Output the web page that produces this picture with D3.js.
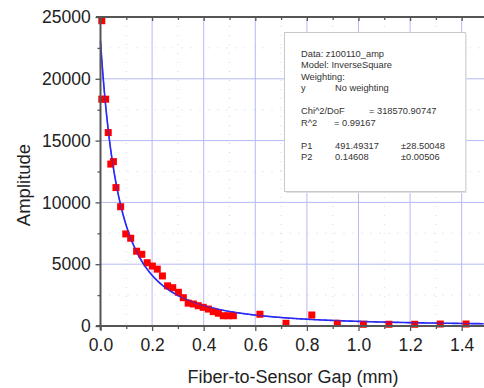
<!DOCTYPE html>
<html>
<head>
<meta charset="utf-8">
<script src="https://cdn.jsdelivr.net/npm/d3@7"></script>
<style>
  html, body { margin: 0; padding: 0; background: #fff; }
  svg { display: block; font-family: "Liberation Sans", Arial, sans-serif; }
</style>
</head>
<body>
<div id="chart"></div>
<script>
// measured gap (mm) and amplitude
const gap = [0.005, 0.005, 0.02, 0.03, 0.04, 0.05, 0.06, 0.078, 0.098, 0.117,
  0.14, 0.16, 0.181, 0.201, 0.22, 0.24, 0.26, 0.28, 0.302, 0.321,
  0.34, 0.36, 0.379, 0.398, 0.418, 0.437, 0.457, 0.476, 0.495, 0.515,
  0.618, 0.719, 0.819, 0.918, 1.019, 1.118, 1.218, 1.317, 1.417];
const amplitude = [24700, 18350, 18350, 15650, 13100, 13300, 11200, 9650, 7450, 7100,
  6050, 5800, 5120, 4850, 4600, 4050, 3250, 3100, 2730, 2290,
  1850, 1780, 1640, 1510, 1370, 1160, 1030, 830, 830, 830,
  950, 220, 890, 220, 140, 140, 140, 160, 160];

// fit parameters shown in the box: y = P1 / (x + P2)^2
const P1 = 491.49317;
const P2 = 0.14608;

const xTicks = [0, 0.2, 0.4, 0.6, 0.8, 1.0, 1.2, 1.4];
const yTicks = [0, 5000, 10000, 15000, 20000, 25000];

const infoLines = [
  ["Data: z100110_amp"],
  ["Model: InverseSquare"],
  ["Weighting:"],
  ["y", "No weighting"],
  [],
  ["Chi^2/DoF", "= 318570.90747"],
  ["R^2", "=  0.99167"],
  [],
  ["P1", "491.49317", "\u00b128.50048"],
  ["P2", "0.14608", "\u00b10.00506"]
];

const W = 484, H = 388;
const mLeft = 100.5, mRight = 484, mTop = 17, mBottom = 326;

const svg = d3.select("#chart").append("svg")
  .attr("width", W).attr("height", H);

const x = d3.scaleLinear().domain([0, 1.4865]).range([mLeft, mRight]);
const y = d3.scaleLinear().domain([0, 25000]).range([mBottom, mTop]);

const gridColor = "#b6baf5";

// minor dotted grid
const g = svg.append("g");
g.selectAll(".vminor").data(d3.range(0.1, 1.5, 0.2)).join("line")
  .attr("x1", d => x(d)).attr("x2", d => x(d))
  .attr("y1", mTop).attr("y2", mBottom)
  .attr("stroke", gridColor).attr("stroke-width", 1)
  .attr("stroke-dasharray", "1,8").attr("opacity", 0.6);
g.selectAll(".hminor").data(d3.range(2500, 25000, 5000)).join("line")
  .attr("x1", mLeft).attr("x2", mRight)
  .attr("y1", d => y(d)).attr("y2", d => y(d))
  .attr("stroke", gridColor).attr("stroke-width", 1)
  .attr("stroke-dasharray", "1,8").attr("opacity", 0.6);

// major grid
g.selectAll(".vmajor").data(xTicks.slice(1)).join("line")
  .attr("x1", d => x(d)).attr("x2", d => x(d))
  .attr("y1", mTop).attr("y2", mBottom)
  .attr("stroke", gridColor).attr("stroke-width", 1);
g.selectAll(".hmajor").data(yTicks.slice(1, -1)).join("line")
  .attr("x1", mLeft).attr("x2", mRight)
  .attr("y1", d => y(d)).attr("y2", d => y(d))
  .attr("stroke", gridColor).attr("stroke-width", 1);

// info box
const box = svg.append("g");
box.append("rect")
  .attr("x", 284.5).attr("y", 32.5).attr("width", 181).attr("height", 159)
  .attr("fill", "#fff").attr("stroke", "#c8c8c8").attr("stroke-width", 1);
box.append("line")
  .attr("x1", 466).attr("x2", 466).attr("y1", 34).attr("y2", 193)
  .attr("stroke", "#e0e0e0").attr("stroke-width", 1.5);
box.append("line")
  .attr("x1", 286).attr("x2", 466).attr("y1", 192.5).attr("y2", 192.5)
  .attr("stroke", "#e0e0e0").attr("stroke-width", 1);

const colX = [301, 335, 401];
infoLines.forEach((row, i) => {
  row.forEach((t, j) => {
    let cx = colX[j];
    if (i === 5 && j === 1) cx = 369;
    if (i === 6 && j === 1) cx = 334;
    box.append("text")
      .attr("x", cx).attr("y", 56.5 + i * 11.5)
      .attr("font-size", 9.3).attr("fill", "#333")
      .text(t);
  });
});

// fit curve
const fitX = d3.range(0, 1.4865, 0.005);
const line = d3.line().x(d => x(d)).y(d => y(P1 / ((d + P2) * (d + P2))));
svg.append("path")
  .datum(fitX)
  .attr("d", line)
  .attr("fill", "none").attr("stroke", "#2a2af5").attr("stroke-width", 1.6);

// data squares
const s = 7;
svg.append("g").selectAll("rect").data(gap).join("rect")
  .attr("x", (d) => x(d) - s / 2)
  .attr("y", (d, i) => y(amplitude[i]) - s / 2)
  .attr("width", s).attr("height", s)
  .attr("fill", "#ff0000");

// curve shows faintly through the squares in the original
svg.append("path")
  .datum(fitX)
  .attr("d", line)
  .attr("fill", "none").attr("stroke", "#2a2af5").attr("stroke-width", 1.2)
  .attr("opacity", 0.6);

// axes
const axisColor = "#555";
const xAxis = svg.append("g").attr("transform", `translate(0,${mBottom})`)
  .call(d3.axisBottom(x).tickValues(xTicks).tickSize(5).tickFormat(d3.format(".1f")));
const xMinor = svg.append("g").attr("transform", `translate(0,${mBottom})`)
  .call(d3.axisBottom(x).tickValues(d3.range(0.1, 1.5, 0.2)).tickSize(3).tickFormat(""));
const yAxis = svg.append("g").attr("transform", `translate(${mLeft},0)`)
  .call(d3.axisLeft(y).tickValues(yTicks).tickSize(5).tickFormat(d3.format("d")));
const yMinor = svg.append("g").attr("transform", `translate(${mLeft},0)`)
  .call(d3.axisLeft(y).tickValues(d3.range(2500, 25000, 5000)).tickSize(3).tickFormat(""));
const xTop = svg.append("g").attr("transform", `translate(0,${mTop})`)
  .call(d3.axisBottom(x).tickValues(xTicks).tickSize(4).tickFormat(""));
const xTopMinor = svg.append("g").attr("transform", `translate(0,${mTop})`)
  .call(d3.axisBottom(x).tickValues(d3.range(0.1, 1.5, 0.2)).tickSize(3).tickFormat(""));

[xAxis, xMinor, yAxis, yMinor, xTop, xTopMinor].forEach(a => {
  a.select(".domain").remove();
  a.selectAll(".tick line").attr("stroke", axisColor).attr("stroke-width", 1.3);
  a.selectAll("text").attr("fill", "#222").attr("font-size", 17.5)
    .attr("font-family", "Liberation Sans, Arial, sans-serif");
});
xAxis.selectAll("text").attr("dy", "0.95em");
yAxis.selectAll("text").attr("dx", "-0.1em");

svg.append("line").attr("x1", 96).attr("x2", W).attr("y1", mBottom).attr("y2", mBottom)
  .attr("stroke", axisColor).attr("stroke-width", 2);
svg.append("line").attr("x1", 96).attr("x2", W).attr("y1", mTop).attr("y2", mTop)
  .attr("stroke", axisColor).attr("stroke-width", 2);
svg.append("line").attr("x1", mLeft).attr("x2", mLeft).attr("y1", mTop - 1).attr("y2", mBottom + 4)
  .attr("stroke", axisColor).attr("stroke-width", 2);

// axis titles
svg.append("text")
  .attr("x", 293).attr("y", 383)
  .attr("text-anchor", "middle").attr("font-size", 18).attr("fill", "#222")
  .text("Fiber-to-Sensor Gap (mm)");
svg.append("text")
  .attr("transform", "translate(30,185) rotate(-90)")
  .attr("text-anchor", "middle").attr("font-size", 18.5).attr("fill", "#222")
  .text("Amplitude");
</script>
</body>
</html>
